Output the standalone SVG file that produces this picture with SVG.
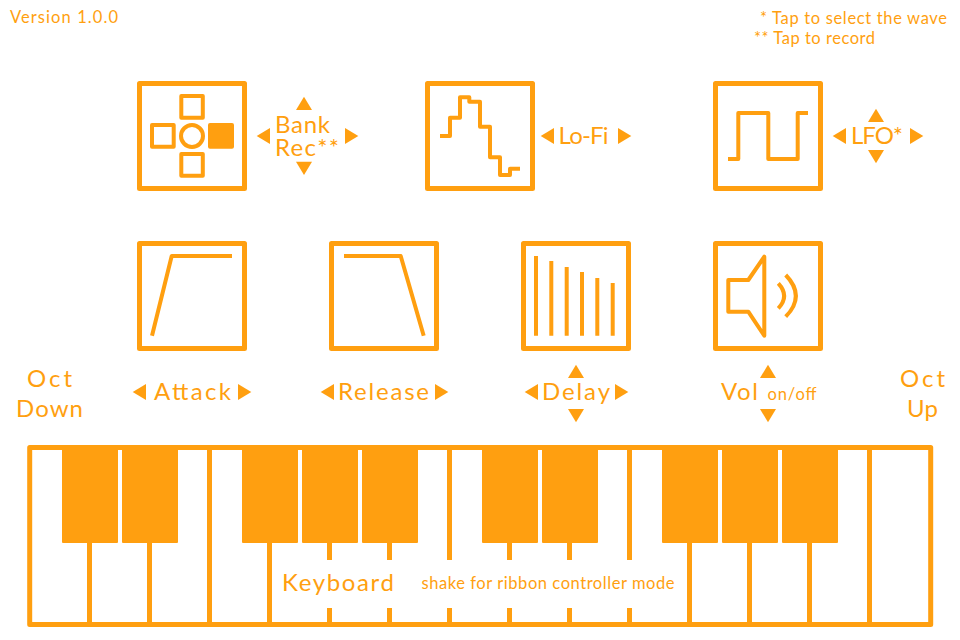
<svg xmlns="http://www.w3.org/2000/svg" width="960" height="640" viewBox="0 0 960 640">
<style>
.box{fill:none;stroke:#ff9f10;stroke-width:5;stroke-linejoin:round}
.ln{fill:none;stroke:#ff9f10;stroke-width:4;stroke-linejoin:round}
.tri{fill:#ff9f10}
text{fill:#ff9f10;font-family:"Lato","Liberation Sans",sans-serif;font-weight:400}
.l{font-size:24px}
.s{font-size:16.5px}
</style>
<defs>
<polygon id="al" class="tri" points="0,0 13.3,-8 13.3,8"/>
<polygon id="ar" class="tri" points="13.3,0 0,-8 0,8"/>
<polygon id="up" class="tri" points="0,0 8,13.3 -8,13.3"/>
<polygon id="dn" class="tri" points="0,13.3 8,0 -8,0"/>
</defs>
<g id="version"><text class="s" x="10" y="23" textLength="108">Version 1.0.0</text></g>
<g id="notes">
<text class="s" x="760" y="23.5" textLength="187">* Tap to select the wave</text>
<text class="s" x="754" y="44" textLength="121">** Tap to record</text>
</g>
<g id="bank">
<rect class="box" x="139.5" y="83.5" width="105" height="105"/>
<rect class="ln" x="181.3" y="96" width="21.5" height="21.7"/>
<rect class="ln" x="152" y="125" width="21.7" height="21.7"/>
<rect class="ln" style="fill:#ff9f10" x="210" y="125" width="22" height="21.7"/>
<rect class="ln" x="181.3" y="154" width="21.5" height="21.7"/>
<circle class="ln" cx="192" cy="136" r="11"/>
<use href="#al" x="256.7" y="136"/><use href="#ar" x="345" y="136"/><use href="#up" x="304" y="96.7"/><use href="#dn" x="304" y="161.7"/>
<text class="l" x="275" y="132.5" textLength="55">Bank</text>
<text class="l" x="275" y="156" textLength="64">Rec**</text>
</g>
<g id="lofi">
<rect class="box" x="427.5" y="83.5" width="105" height="105"/>
<path class="ln" d="M440 136H450V117.7H460V97.3H469.3V101.7H480V126.7H490V157.3H500V175H510V168.7H520"/>
<use href="#al" x="540.7" y="136"/><use href="#ar" x="618" y="136"/>
<text class="l" x="558.5" y="144" textLength="50">Lo-Fi</text>
</g>
<g id="lfo">
<rect class="box" x="715.5" y="83.5" width="105" height="105"/>
<path class="ln" d="M728 159H738.3V113H768.3V159H797.7V113H808"/>
<use href="#al" x="832.7" y="136"/><use href="#ar" x="910" y="136"/><use href="#up" x="876" y="108.7"/><use href="#dn" x="876" y="150"/>
<text class="l" x="851" y="144.3" textLength="52">LFO*</text>
</g>
<g id="attack">
<rect class="box" x="139.5" y="243.5" width="105" height="105"/>
<path class="ln" d="M152 335.7L171.7 256H232"/>
<use href="#al" x="132.7" y="392"/><use href="#ar" x="238" y="392"/>
<text class="l" x="154" y="400" textLength="77">Attack</text>
</g>
<g id="release">
<rect class="box" x="331.5" y="243.5" width="105" height="105"/>
<path class="ln" d="M344 256H400.7L423.7 335.7"/>
<use href="#al" x="320.7" y="392"/><use href="#ar" x="435" y="392"/>
<text class="l" x="338" y="400" textLength="91">Release</text>
</g>
<g id="delay">
<rect class="box" x="523.5" y="243.5" width="105" height="105"/>
<path class="ln" d="M536 256V335.7M551.3 261V335.7M566.7 267V335.7M582 272V335.7M597.3 278V335.7M612.7 283V335.7"/>
<use href="#al" x="524.7" y="392"/><use href="#ar" x="615" y="392"/><use href="#up" x="576" y="364.7"/><use href="#dn" x="576" y="409"/>
<text class="l" x="542" y="400" textLength="68">Delay</text>
</g>
<g id="vol">
<rect class="box" x="715.5" y="243.5" width="105" height="105"/>
<path class="ln" d="M728.3 280H748.3L764.3 256.7V335.7L748.3 311.7H728.3Z"/>
<path class="ln" d="M778.3 283.3Q790 296 778.3 308.3M785.7 275Q806 296 785.7 316.7"/>
<use href="#up" x="768" y="364.7"/><use href="#dn" x="768" y="409"/>
<text class="l" x="721" y="400" textLength="37">Vol</text>
<text class="s" x="767.5" y="399.5" textLength="49">on/off</text>
</g>
<g id="oct-down">
<text class="l" x="27" y="387" textLength="45">Oct</text>
<text class="l" x="16" y="417" textLength="67">Down</text>
</g>
<g id="oct-up">
<text class="l" x="900" y="387" textLength="45">Oct</text>
<text class="l" x="907" y="417" textLength="31">Up</text>
</g>
<g id="keyboard">
<rect class="box" x="29.7" y="447.5" width="901" height="177"/>
<g class="tri">
<rect x="62" y="447" width="56" height="96" rx="1"/>
<rect x="122" y="447" width="56" height="96" rx="1"/>
<rect x="242" y="447" width="56" height="96" rx="1"/>
<rect x="302" y="447" width="56" height="96" rx="1"/>
<rect x="362" y="447" width="56" height="96" rx="1"/>
<rect x="482" y="447" width="56" height="96" rx="1"/>
<rect x="542" y="447" width="56" height="96" rx="1"/>
<rect x="662" y="447" width="56" height="96" rx="1"/>
<rect x="722" y="447" width="56" height="96" rx="1"/>
<rect x="782" y="447" width="56" height="96" rx="1"/>
</g>
<path class="box" d="M89.5 543V625M149.5 543V625M209.5 447V625M269.5 543V625M329.5 543V560M329.5 608V625M389.5 543V560M389.5 608V625M449.5 447V560M449.5 608V625M509.5 543V560M509.5 608V625M569.5 543V560M569.5 608V625M629.5 447V560M629.5 608V625M689.5 543V625M749.5 543V625M809.5 543V625M869.5 447V625"/>
<text class="l" x="282" y="591" textLength="112">Keyboard</text>
<text class="s" x="421.5" y="589" textLength="253">shake for ribbon controller mode</text>
</g>
</svg>
